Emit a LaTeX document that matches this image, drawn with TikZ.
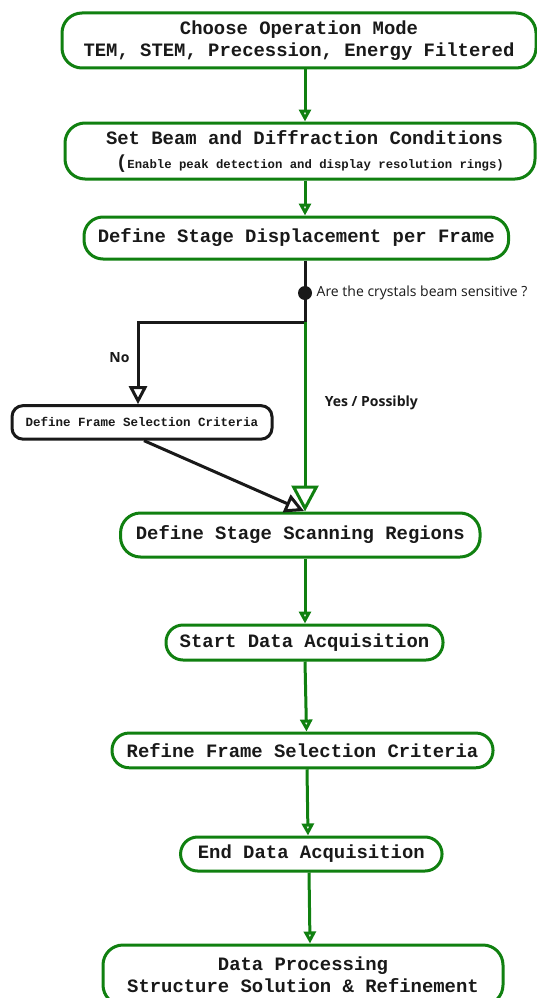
\documentclass[tikz,border=0pt]{standalone}
\usepackage{fontspec}
\setmonofont{Liberation Mono}
\setsansfont{Open Sans}
\usetikzlibrary{arrows.meta}
\definecolor{fgreen}{RGB}{16,128,16}
\begin{document}
\begin{tikzpicture}[x=1pt,y=-1pt,
  box/.style={draw=fgreen, line width=3pt, rounded corners=17pt, inner sep=0pt, fill=white,
    font=\ttfamily\bfseries\fontsize{18.9}{22}\selectfont, align=center, text=black!90},
  sbox/.style={draw=black!90, line width=3pt, rounded corners=11pt, inner sep=0pt, fill=white,
    font=\ttfamily\bfseries\fontsize{12.5}{14}\selectfont, align=center, text=black!90},
  garrow/.style={draw=fgreen, line width=3pt, -{Triangle[open, length=12pt, width=12pt]}},
  bigarrow/.style={draw=fgreen, line width=3pt, -{Triangle[open, length=26pt, width=27pt]}},
  barrow/.style={draw=black!90, line width=3pt, -{Triangle[open, length=18pt, width=18pt]}},
  bline/.style={draw=black!90, line width=3pt},
  lbl/.style={font=\sffamily\fontsize{14}{16}\selectfont, text=black!90, inner sep=0pt},
  blbl/.style={font=\sffamily\bfseries\fontsize{14}{16}\selectfont, text=black!90, inner sep=0pt}
]
\useasboundingbox (0,0) rectangle (537,998);

% helper x positions
\coordinate (x305) at (305,0);
\coordinate (x306) at (306.5,0);
\coordinate (x307) at (307,0);
\coordinate (x308) at (308,0);
\coordinate (x309) at (309,0);
\coordinate (x310) at (310,0);
\coordinate (x138) at (138,0);
\coordinate (x144) at (144,0);

% nodes
\node[box, minimum width=474pt, minimum height=55pt, rounded corners=20pt] (mode) at (299,40.5)
  {Choose Operation Mode\\TEM, STEM, Precession, Energy Filtered};
\node[box, minimum width=470pt, minimum height=56pt, rounded corners=20pt] (beam) at (300,151)
  {\hspace*{9pt}Set Beam and Diffraction Conditions\\[2pt]
   \hspace*{20pt}(\fontsize{12.3}{14}\selectfont Enable peak detection and display resolution rings)};
\node[box, minimum width=424.6pt, minimum height=42pt, rounded corners=19pt] (disp) at (296.3,238)
  {Define Stage Displacement per Frame};
\node[sbox, minimum width=260pt, minimum height=33.5pt] (fsc) at (142,422.4)
  {Define Frame Selection Criteria};
\node[box, minimum width=359.5pt, minimum height=44pt, rounded corners=20pt] (scan) at (300.3,535)
  {Define Stage Scanning Regions};
\node[box, minimum width=277pt, minimum height=35pt] (start) at (304.5,642.5)
  {Start Data Acquisition};
\node[box, minimum width=381pt, minimum height=34.7pt] (refine) at (302.5,750.4)
  {Refine Frame Selection Criteria};
\node[box, minimum width=261.5pt, minimum height=34pt] (end) at (311.3,854)
  {End Data Acquisition};
\node[box, minimum width=400pt, minimum height=60pt, rounded corners=20pt] (proc) at (303,975)
  {Data Processing\\Structure Solution \& Refinement};

% decision
\coordinate (dot) at (305,293);
\coordinate (junc) at (305,322);
\coordinate (jleft) at (138,322);
\coordinate (tipb) at (304,511);

% connectors
\draw[garrow] (mode.south -| x305) -- (beam.north -| x305);
\draw[garrow] (beam.south -| x305) -- (disp.north -| x305);
\draw[bline] (disp.south -| x305) -- (dot) -- (junc);
\draw[barrow] (junc) -- (jleft) -- (fsc.north -| x138);
\draw[bigarrow] (junc) -- (scan.north -| x305);
\draw[barrow, -{Triangle[open, length=19pt, width=19pt]}] (fsc.south -| x144) -- (tipb);
\fill[black!90] (dot) circle (7pt);
\draw[garrow] (scan.south -| x305) -- (start.north -| x305);
\draw[garrow] (start.south -| x305) -- (refine.north -| x306);
\draw[garrow] (refine.south -| x307) -- (end.north -| x308);
\draw[garrow] (end.south -| x309) -- (proc.north -| x310);

% labels
\node[lbl, anchor=west] (q) at (316.5,293) {Are the crystals beam sensitive ?};
\node[blbl] (no) at (119.5,358) {No};
\node[blbl, anchor=west] (yes) at (324.6,403) {Yes / Possibly};
\end{tikzpicture}
\end{document}
